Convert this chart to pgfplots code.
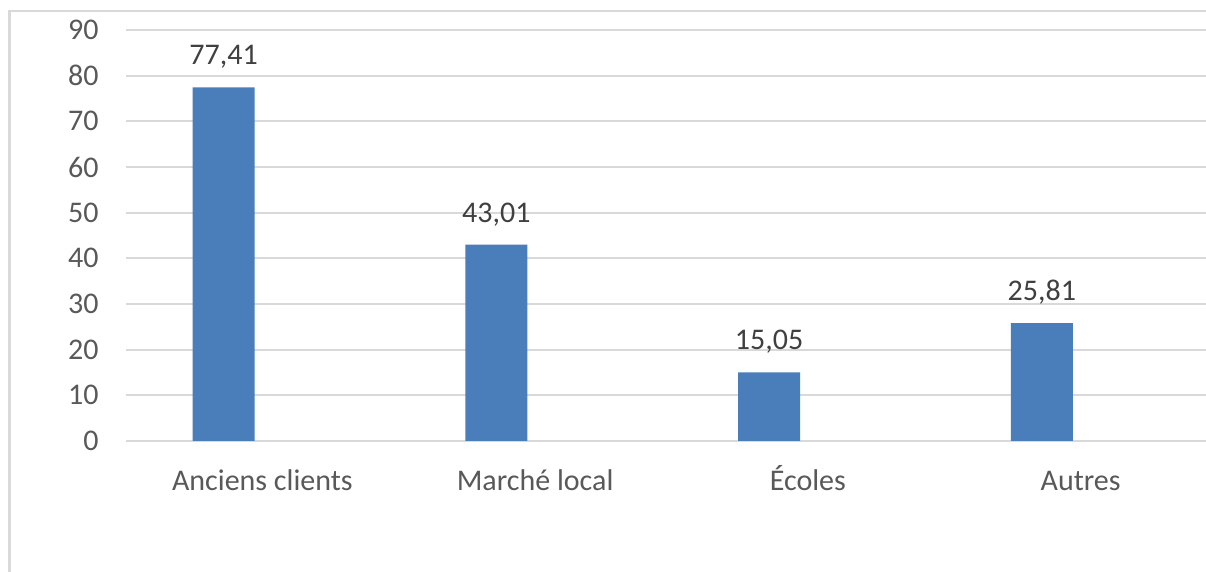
\documentclass[border=0pt]{standalone}
\usepackage{fontspec}
\setmainfont{Carlito}
\usepackage{pgfplots}
\pgfplotsset{compat=1.18}
\definecolor{barblue}{HTML}{4A7EBB}
\definecolor{gridgray}{HTML}{D9D9D9}
\definecolor{txtgray}{HTML}{595959}
\definecolor{lblgray}{HTML}{404040}
\begin{document}
\begin{tikzpicture}
\useasboundingbox (0,0) rectangle (603pt,286pt);
\clip (0,0) rectangle (603pt,286pt);
\fill[white] (0,0) rectangle (603pt,286pt);
\draw[gridgray, line width=1.3pt] (4.75pt,-20pt) -- (4.75pt,280.5pt) -- (640pt,280.5pt);
\begin{axis}[
  at={(63pt,65.5pt)}, anchor=south west,
  scale only axis, width=545.5pt, height=205.5pt,
  xmin=0, xmax=4, ymin=0, ymax=90,
  axis line style={draw=none},
  ymajorgrids, grid style={gridgray, line width=1pt},
  ytick={0,10,...,90},
  xtick={0.5,1.5,2.5,3.5},
  xticklabels={Anciens clients, Marché local, Écoles, Autres},
  major tick length=0pt,
  tick style={draw=none},
  tick label style={font=\fontsize{15}{17}\selectfont, text=txtgray},
  yticklabel style={anchor=east, inner sep=0pt, xshift=-13.5pt},
  xticklabel style={anchor=base, inner sep=0pt, yshift=-25pt},
  /pgf/number format/assume math mode=true,
  clip=false,
]
\addplot[ybar, bar width=31pt, fill=barblue, draw=none,
  nodes near coords,
  nodes near coords style={font=\fontsize{15}{17}\selectfont, text=lblgray, anchor=base, inner sep=0pt, yshift=11.25pt,
    /pgf/number format/.cd, fixed, fixed zerofill, precision=2, use comma, assume math mode=true},
] coordinates {(0.358,77.41) (1.358,43.01) (2.358,15.05) (3.358,25.81)};
\end{axis}
\end{tikzpicture}
\end{document}
